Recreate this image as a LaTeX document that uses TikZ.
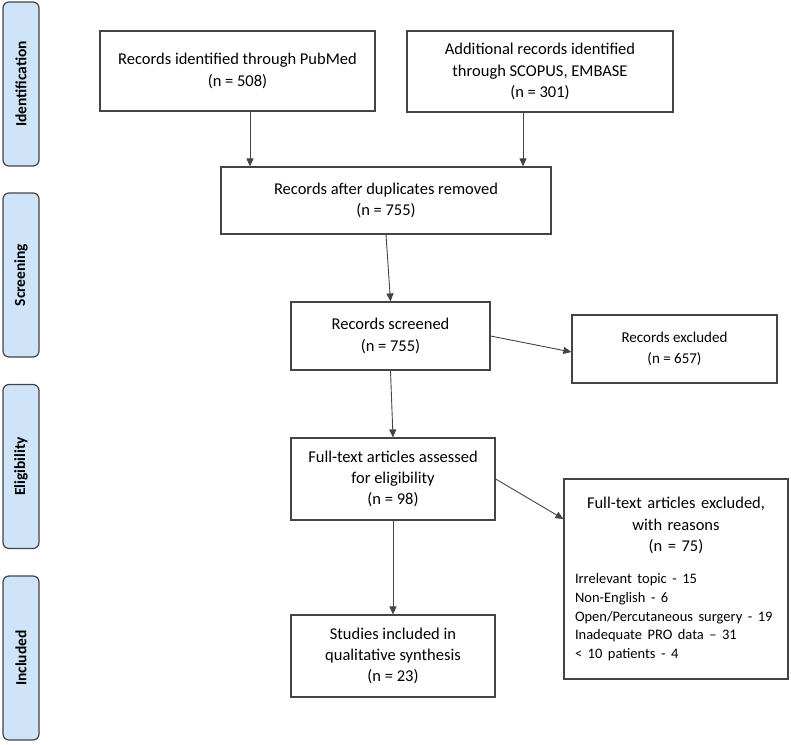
\documentclass[tikz,border=0pt]{standalone}
\usepackage{fontspec}
\setmainfont{Carlito}
\usetikzlibrary{arrows.meta}
\definecolor{barblue}{RGB}{207,228,249}
\definecolor{edgegray}{RGB}{68,68,68}
\begin{document}
\begin{tikzpicture}[x=1pt,y=-1pt,
    box/.style={draw=edgegray,line width=1.2pt,align=center,inner sep=0pt,
      font=\fontsize{16.5}{21.3}\selectfont},
    phase/.style={draw=edgegray,fill=barblue,rounded corners=6pt,line width=1.2pt,
      rotate=90,minimum width=164,minimum height=36,inner sep=0pt,
      font=\bfseries\fontsize{15.5}{18}\selectfont},
    arr/.style={-{Triangle[length=8pt,width=7pt]},edgegray,line width=0.9pt}]
  \useasboundingbox (0,0) rectangle (791,744);
  % phase bars on the left
  \node[phase] (ident) at (21,84) {Identification};
  \node[phase] (screen) at (21,275) {Screening};
  \node[phase] (elig) at (21,466.5) {Eligibility};
  \node[phase] (incl) at (21,658) {Included};
  % flow boxes
  \node[box,minimum width=275,minimum height=80] (pubmed) at (237.5,71)
    {Records identified through PubMed\\(n = 508)};
  \node[box,minimum width=266,minimum height=81] (other) at (540,71.5)
    {Additional records identified\\through SCOPUS, EMBASE\\(n = 301)};
  \node[box,minimum width=330,minimum height=67] (dedup) at (386,200.5)
    {Records after duplicates removed\\(n = 755)};
  \node[box,minimum width=199,minimum height=68] (screened) at (390.5,336)
    {Records screened\\(n = 755)};
  \node[box,minimum width=205,minimum height=68,font=\fontsize{15}{21}\selectfont] (excl1) at (674.5,349)
    {Records excluded\\(n = 657)};
  \node[box,minimum width=204,minimum height=82] (fulltext) at (393,479)
    {Full-text articles assessed\\for eligibility\\(n = 98)};
  \node[box,minimum width=204,minimum height=82] (studies) at (393,656)
    {Studies included in\\qualitative synthesis\\(n = 23)};
  \node[box,minimum width=224,minimum height=200,text width=202] (excl2) at (676,579)
    {{\centering Full-text articles excluded,\\with reasons\\(n = 75)\par}
     \vspace{14pt}
     {\raggedright\fontsize{14.5}{18.6}\selectfont
      Irrelevant topic - 15\\
      Non-English - 6\\
      Open/Percutaneous surgery - 19\\
      Inadequate PRO data – 31\\
      < 10 patients - 4\par}};
  % connectors
  \draw[arr] ([xshift=12.5pt]pubmed.south) -- ([xshift=12.5pt]pubmed.south |- dedup.north);
  \draw[arr] ([xshift=-17pt]other.south) -- ([xshift=-17pt]other.south |- dedup.north);
  \draw[arr] (dedup.south) -- (screened.north);
  \draw[arr] (screened.east) -- ([yshift=-3pt]excl1.west);
  \draw[arr] (screened.south) -- (fulltext.north);
  \draw[arr] (fulltext.east) -- ([yshift=60pt]excl2.west);
  \draw[arr] (fulltext.south) -- (studies.north);
\end{tikzpicture}
\end{document}
